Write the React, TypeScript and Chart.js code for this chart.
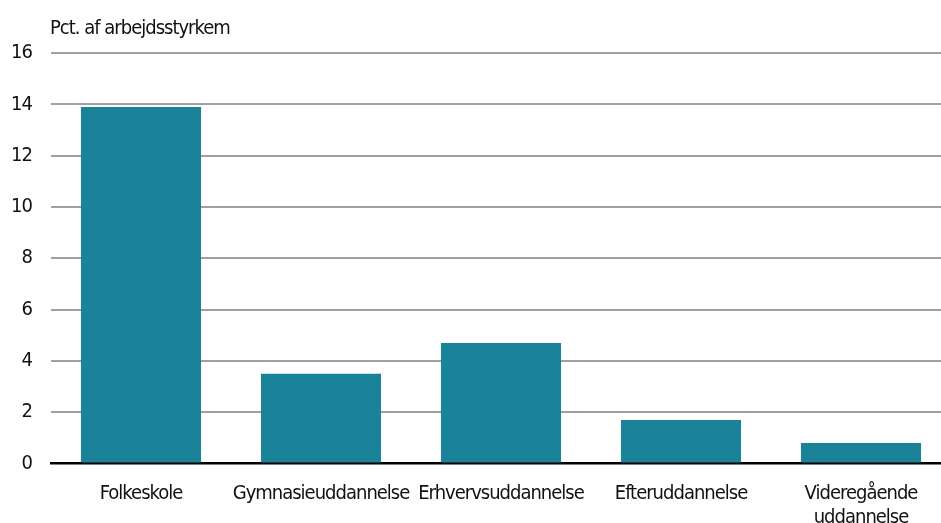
import React, { useEffect, useRef } from "react";
import { Chart, registerables } from "chart.js";

Chart.register(...registerables);

const categories: (string | string[])[] = [
  "Folkeskole",
  "Gymnasieuddannelse",
  "Erhvervsuddannelse",
  "Efteruddannelse",
  ["Videregående", "uddannelse"],
];
const values: number[] = [13.9, 3.5, 4.7, 1.7, 0.8];
const yTicks: number[] = [0, 2, 4, 6, 8, 10, 12, 14, 16];
const yTitle = "Pct. af arbejdsstyrkem";

const FONT = '"Liberation Sans Narrow", "DejaVu Sans Condensed", "Arial Narrow", sans-serif';
const BAR = "#1b8399";
const SPACING = "-1px";

export default function App() {
  const ref = useRef<HTMLCanvasElement | null>(null);
  useEffect(() => {
    if (!ref.current) return;
    const spacingPlugin = {
      id: "spacing",
      beforeLayout(chart: any) {
        (chart.ctx as any).letterSpacing = SPACING;
      },
      beforeDraw(chart: any) {
        (chart.ctx as any).letterSpacing = SPACING;
      },
    };
    const titlePlugin = {
      id: "yTitle",
      afterDraw(chart: any) {
        const ctx = chart.ctx;
        ctx.save();
        ctx.font = `20px ${FONT}`;
        (ctx as any).letterSpacing = SPACING;
        ctx.fillStyle = "#111";
        ctx.textAlign = "left";
        ctx.textBaseline = "alphabetic";
        ctx.fillText(yTitle, chart.chartArea.left - 1, 34);
        ctx.restore();
      },
    };
    const chart = new Chart(ref.current, {
      type: "bar",
      data: {
        labels: categories,
        datasets: [
          {
            data: values,
            backgroundColor: BAR,
            categoryPercentage: 1,
            barPercentage: 0.667,
          },
        ],
      },
      options: {
        responsive: false,
        animation: false,
        layout: { padding: { top: 53, left: 0, right: 0, bottom: 0 } },
        plugins: { legend: { display: false }, tooltip: { enabled: false } },
        scales: {
          x: {
            grid: { display: false },
            border: { display: true, color: "#000", width: 2.5 },
            ticks: {
              color: "#111",
              font: { family: FONT, size: 20 },
              padding: 10,
              maxRotation: 0,
              autoSkip: false,
            },
            afterFit(scale: any) {
              scale.height = 59.5;
            },
          },
          y: {
            min: 0,
            max: 16,
            afterBuildTicks(scale: any) {
              scale.ticks = yTicks.map((v) => ({ value: v }));
            },
            grid: {
              drawTicks: false,
              lineWidth: 2,
              color: (c: any) => (c.tick && c.tick.value === 0 ? "rgba(0,0,0,0)" : "#a0a0a0"),
            },
            border: { display: false },
            ticks: {
              color: "#111",
              font: { family: FONT, size: 20 },
              padding: 19,
            },
            afterFit(scale: any) {
              scale.width = 51;
            },
          },
        },
      },
      plugins: [spacingPlugin, titlePlugin],
    });
    return () => chart.destroy();
  }, []);
  return (
    <div
      style={{
        position: "fixed",
        left: 0,
        top: 0,
        width: 941,
        height: 523,
        overflow: "hidden",
        background: "#fff",
      }}
    >
      <canvas ref={ref} width={951} height={523} style={{ display: "block" }} />
    </div>
  );
}
